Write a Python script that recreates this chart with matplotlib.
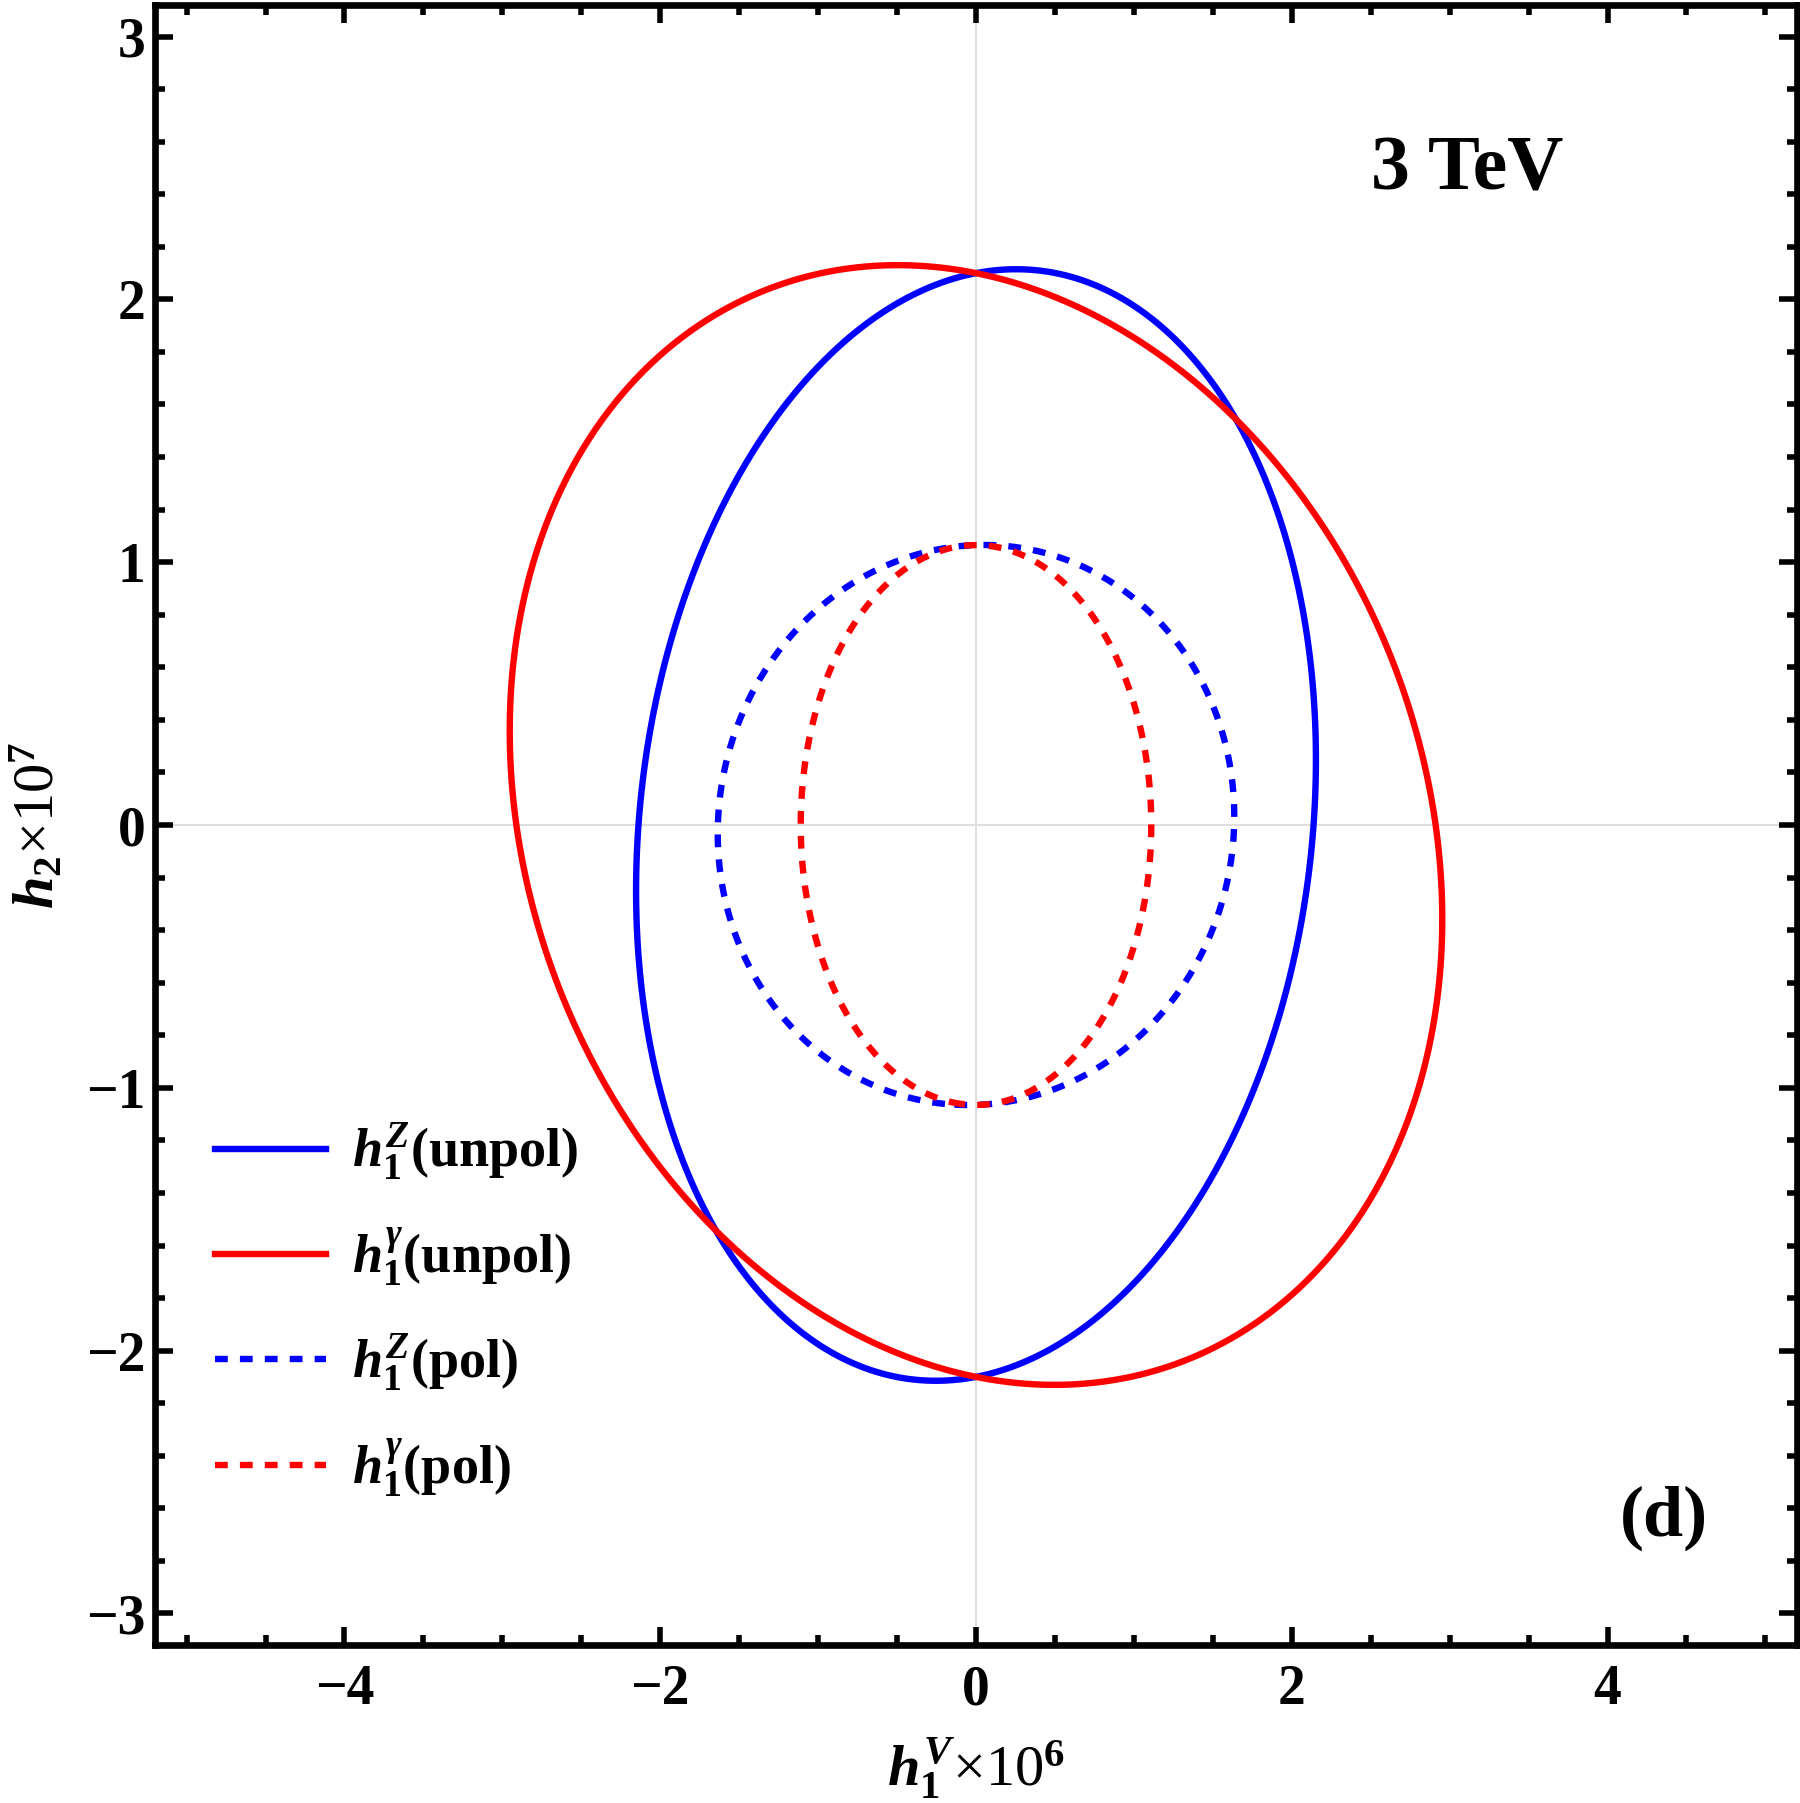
import numpy as np
import matplotlib
matplotlib.use("Agg")
import matplotlib.pyplot as plt
from matplotlib.lines import Line2D
from matplotlib.ticker import MultipleLocator

plt.rcParams['font.family'] = ['Liberation Serif', 'DejaVu Serif']
plt.rcParams['font.weight'] = 'bold'
plt.rcParams['mathtext.fontset'] = 'custom'
plt.rcParams['mathtext.it'] = 'Liberation Serif:italic:bold'
plt.rcParams['mathtext.rm'] = 'Liberation Serif:bold'
plt.rcParams['mathtext.bf'] = 'Liberation Serif:bold'

# chi^2 = a*x^2 + 2*b*x*y + c*y^2 (x = h1 x 1e6, y = h2 x 1e7), contour at level 1
labels = [r'$h_1^Z$(unpol)', r'$h_1^{\gamma}$(unpol)', r'$h_1^Z$(pol)', r'$h_1^{\gamma}$(pol)']
coef_a = [0.2188, 0.1180, 0.3741, 0.8116]
coef_b = [-0.0263, 0.0275, -0.0176, 0.0]
coef_c = [0.2268, 0.2268, 0.8817, 0.8817]
level = 1.0
colors = ['#0000ff', '#ff0000', '#0000ff', '#ff0000']
styles = ['-', '-', (0, (2.0, 1.9)), (0, (2.0, 1.9))]

fig = plt.figure(figsize=(18, 18.03), dpi=100)
ax = fig.add_axes([155/1800, 1-1645/1803, 1642/1800, 1640/1803])

xs = np.linspace(-5.2, 5.2, 901)
ys = np.linspace(-3.12, 3.12, 901)
X, Y = np.meshgrid(xs, ys)

ax.axhline(0, color='#d8d8d8', lw=1.2, zorder=0)
ax.axvline(0, color='#d8d8d8', lw=1.2, zorder=0)

lw = 4.6
handles = []
for i in range(len(labels)):
    Z = coef_a[i]*X**2 + 2*coef_b[i]*X*Y + coef_c[i]*Y**2
    ax.contour(X, Y, Z, levels=[level], colors=[colors[i]],
               linewidths=lw, linestyles=[styles[i]])
    handles.append(Line2D([], [], color=colors[i], lw=lw, ls=styles[i]))

ax.set_xlim(-5.2, 5.2)
ax.set_ylim(-3.12, 3.12)
ax.xaxis.set_major_locator(MultipleLocator(2))
ax.xaxis.set_minor_locator(MultipleLocator(0.5))
ax.yaxis.set_major_locator(MultipleLocator(1))
ax.yaxis.set_minor_locator(MultipleLocator(0.2))
ax.tick_params(which='both', direction='in', top=True, right=True, width=4, labelsize=40)
ax.tick_params(which='major', length=13)
ax.tick_params(which='minor', length=7.5)
ax.tick_params(axis='x', pad=14)
ax.tick_params(axis='y', pad=7)
for s in ax.spines.values():
    s.set_linewidth(4.8)

ax.set_xlabel(r'$h_1^V$×10$^6$', fontsize=42, labelpad=14)
ax.set_ylabel(r'$h_2$×10$^7$', fontsize=42, labelpad=14)

ax.text(0.799, 0.899, '3 TeV', transform=ax.transAxes, fontsize=56,
        fontweight='bold', ha='center', va='center')
ax.text(0.919, 0.077, '(d)', transform=ax.transAxes, fontsize=52,
        fontweight='bold', ha='center', va='center')

ax.legend(handles, labels, loc='upper left', bbox_to_anchor=(0.02, 0.336),
          frameon=False, fontsize=39, handlelength=2.05, handletextpad=0.48,
          labelspacing=0.8, borderpad=0)

fig.savefig('out.png', dpi=100)
